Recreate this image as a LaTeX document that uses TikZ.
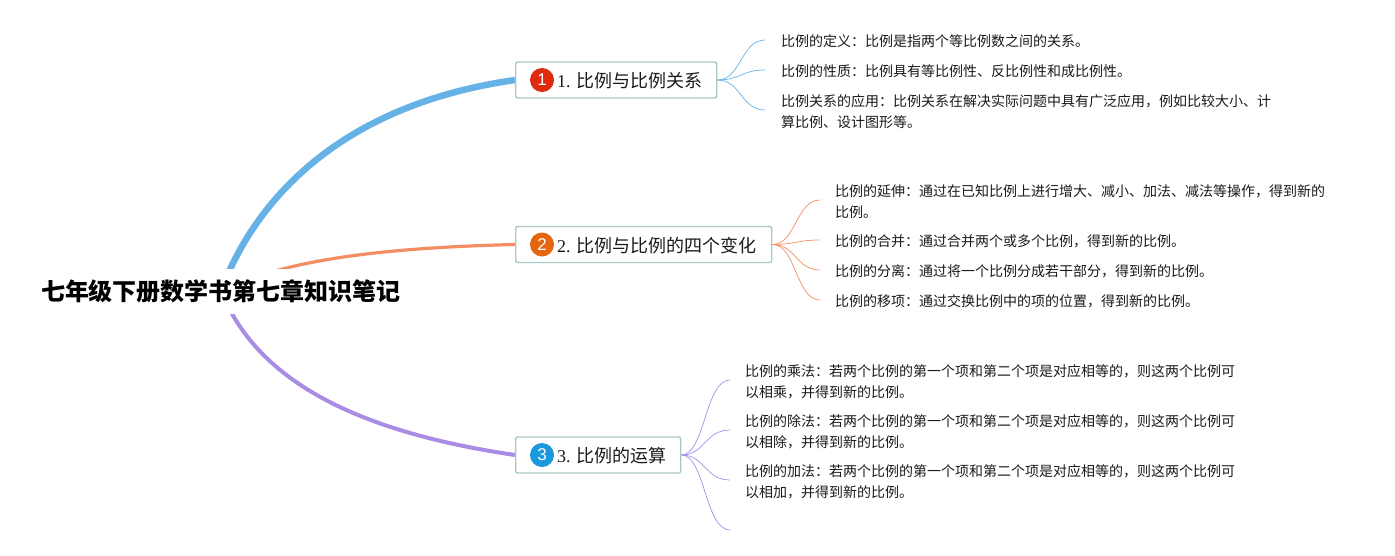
\documentclass[tikz,border=0pt]{standalone}
\usepackage{fontspec}
\setmainfont{Liberation Serif}
\setsansfont{Liberation Sans}
\newfontfamily\cjk{Noto Sans CJK SC}
\usetikzlibrary{backgrounds}
\definecolor{cblue}{HTML}{66B2E6}
\definecolor{corange}{HTML}{F28E62}
\definecolor{cpurple}{HTML}{A98CE4}
\definecolor{cedge}{HTML}{A9C9C2}
\definecolor{ctext}{HTML}{1A1A1A}
\definecolor{bred}{HTML}{DE2A0E}
\definecolor{borange}{HTML}{E4670F}
\definecolor{bblue}{HTML}{1B97DB}
\tikzset{
  rootbox/.style={fill=white,minimum height=45pt,minimum width=400pt,inner sep=0pt,text=black,font=\cjk\bfseries\fontsize{24}{28}\selectfont},
  topic/.style={draw=cedge,line width=1.4pt,fill=white,rounded corners=2pt,minimum height=36pt,inner sep=0pt,anchor=west,text=ctext},
  topictext/.style={font=\fontsize{18}{20}\selectfont,text=ctext,inner sep=0pt,anchor=west},
  badge/.style={circle,minimum size=24pt,inner sep=0pt,text=white,font=\fontsize{17}{18}\selectfont\sffamily},
  leaf/.style={anchor=west,align=left,inner sep=0pt,text=ctext,font=\cjk\fontsize{14}{21}\selectfont},
  branch/.style={line cap=butt},
  twig/.style={line width=0.7pt},
}
\begin{document}
\begin{tikzpicture}[x=1pt,y=-1pt]
\useasboundingbox (0,0) rectangle (1395,555);
\node[rootbox] (root) at (221,291) {七年级下册数学书第七章知识笔记};
\node[topic,minimum width=201pt] (t1) at (515,80) {};
\node[topic,minimum width=256pt] (t2) at (515,244.5) {};
\node[topic,minimum width=165pt] (t3) at (515,455) {};
\node[badge,fill=bred] (n1) at (542,80) {1};
\node[badge,fill=borange] (n2) at (542,244.5) {2};
\node[badge,fill=bblue] (n3) at (542,455) {3};
\node[topictext] (x1) at (557,81) {1. {\cjk 比例与比例关系}};
\node[topictext] (x2) at (557,245.5) {2. {\cjk 比例与比例的四个变化}};
\node[topictext] (x3) at (557,456) {3. {\cjk 比例的运算}};
\node[leaf] (a1) at (781,41.5) {比例的定义：比例是指两个等比例数之间的关系。};
\node[leaf] (a2) at (781,71.5) {比例的性质：比例具有等比例性、反比例性和成比例性。};
\node[leaf] (a3) at (781,111.5) {比例关系的应用：比例关系在解决实际问题中具有广泛应用，例如比较大小、计\\算比例、设计图形等。};
\node[leaf] (b1) at (835,201.5) {比例的延伸：通过在已知比例上进行增大、减小、加法、减法等操作，得到新的\\比例。};
\node[leaf] (b2) at (835,241.5) {比例的合并：通过合并两个或多个比例，得到新的比例。};
\node[leaf] (b3) at (835,271.5) {比例的分离：通过将一个比例分成若干部分，得到新的比例。};
\node[leaf] (b4) at (835,301.5) {比例的移项：通过交换比例中的项的位置，得到新的比例。};
\node[leaf] (c1) at (745,381.5) {比例的乘法：若两个比例的第一个项和第二个项是对应相等的，则这两个比例可\\以相乘，并得到新的比例。};
\node[leaf] (c2) at (745,431.5) {比例的除法：若两个比例的第一个项和第二个项是对应相等的，则这两个比例可\\以相除，并得到新的比例。};
\node[leaf] (c3) at (745,481.5) {比例的加法：若两个比例的第一个项和第二个项是对应相等的，则这两个比例可\\以相加，并得到新的比例。};
\begin{scope}[on background layer]
\draw[branch,cblue,line width=6.5pt] (root.center) .. controls (255,200) and (340,105) .. (t1.west);
\draw[branch,corange,line width=3.2pt] (root.center) .. controls (280,262) and (370,248) .. (t2.west);
\draw[branch,cpurple,line width=4pt] (root.center) .. controls (255,375) and (345,430) .. (t3.west);
\foreach \y in {40,70,110}{
  \draw[twig,cblue] (t1.east) .. controls (741,80) and (741,\y) .. (765,\y);
}
\foreach \y in {200,240,270,300}{
  \draw[twig,corange] (t2.east) .. controls (796,244.5) and (796,\y) .. (820,\y);
}
\foreach \y in {380,430,480,530}{
  \draw[twig,cpurple] (t3.east) .. controls (705,455) and (705,\y) .. (730,\y);
}
\end{scope}
\end{tikzpicture}
\end{document}
